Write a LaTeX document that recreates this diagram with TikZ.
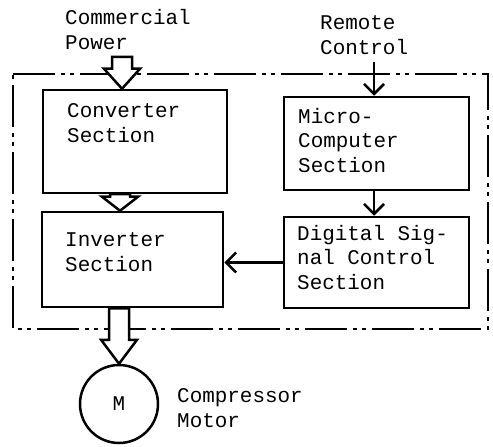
\documentclass[tikz,border=0pt]{standalone}
\usepackage{fontspec}
\setmainfont{Liberation Mono}
\usetikzlibrary{calc,arrows.meta}

\newcommand{\fatarrow}[3][20bp]{\path[hollow] let \p1=(#2), \p2=(#3) in (\x1-10bp,\y1) -- (\x1-10bp,\y2+#1) -- (\x1-18bp,\y2+#1) -- (\x1,\y2) -- (\x1+18bp,\y2+#1) -- (\x1+10bp,\y2+#1) -- (\x1+10bp,\y1) -- cycle;}

\begin{document}
\begin{tikzpicture}[x=1bp,y=-1bp,font=\fontsize{21}{25}\selectfont,
  block/.style={shape=rectangle,draw=black,line width=2.5bp,inner sep=0pt},
  label/.style={anchor=west,align=left,inner sep=0pt},
  frame/.style={draw=black,line width=2.8bp,dash pattern=on 42bp off 6bp on 4bp off 5bp on 4bp off 6bp},
  hollow/.style={draw=black,fill=white,line width=2.5bp,line join=miter},
  sig/.style={draw=black,line width=2.5bp,-{Straight Barb[length=10bp,width=20bp]}}]
\useasboundingbox (0,0) rectangle (493,447);
\path[frame] (13,74) -- (488,74) -- (488,329) -- (13,329) -- cycle;

\node[block,minimum width=184bp,minimum height=103bp] (conv) at (135,141.5) {};
\node[block,minimum width=181bp,minimum height=95bp] (inv) at (132.5,259.5) {};
\node[block,minimum width=185bp,minimum height=93bp] (micro) at (376.5,143.5) {};
\node[block,minimum width=185bp,minimum height=91bp] (dsc) at (376.5,262.5) {};
\node[shape=circle,draw=black,line width=2.5bp,minimum size=78bp,inner sep=0pt] (motor) at (119,404) {M};

\node[label] (convtxt) at (67,123) {Converter\\Section};
\node[label] (invtxt) at (65,252.5) {Inverter\\Section};
\node[label] (microtxt) at (298,140.5) {Micro-\\Computer\\Section};
\node[label] (dsctxt) at (297,257.5) {Digital Sig-\\nal Control\\Section};
\node[label] (power) at (65,29.5) {Commercial\\Power};
\node[label] (remote) at (320,35) {Remote\\Control};
\node[label] (comp) at (177,408) {Compressor\\Motor};

\coordinate (pw) at (122,57);
\coordinate (rc) at (374,62);
\coordinate (convout) at ([xshift=-15bp]conv.south);

\fatarrow{pw}{conv.north -| pw}
\fatarrow[14bp]{convout}{inv.north -| convout}
\fatarrow[24bp]{inv.south -| motor}{motor.north}

\draw[sig] (rc) -- (rc |- micro.north);
\draw[sig] (micro.south -| rc) -- (dsc.north -| rc);
\draw[sig] (dsc.west) -- (inv.east |- dsc.west);
\end{tikzpicture}
\end{document}
